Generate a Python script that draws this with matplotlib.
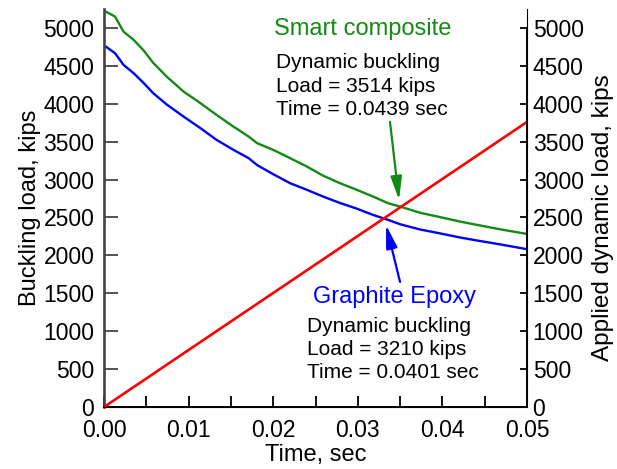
import matplotlib
matplotlib.use("Agg")
import matplotlib.pyplot as plt
from matplotlib.ticker import MultipleLocator

plt.rcParams['font.family'] = ['Liberation Sans', 'DejaVu Sans']

# datos
t_smart = [0.0002, 0.0013, 0.0023, 0.0035, 0.0047, 0.0058, 0.0074, 0.0094,
           0.0114, 0.0133, 0.0153, 0.0171, 0.0181, 0.0200, 0.0220, 0.0240,
           0.0259, 0.0279, 0.0299, 0.0318, 0.0336, 0.0350, 0.0374, 0.0397,
           0.0421, 0.0444, 0.0468, 0.0500]
p_smart = [5215, 5149, 4951, 4842, 4700, 4540, 4358, 4160,
           4007, 3852, 3698, 3566, 3479, 3391, 3281, 3170,
           3050, 2951, 2863, 2775, 2687, 2643, 2560, 2505,
           2445, 2395, 2344, 2282]

t_graph = [0.0002, 0.0013, 0.0023, 0.0035, 0.0047, 0.0058, 0.0074, 0.0094,
           0.0114, 0.0133, 0.0153, 0.0171, 0.0181, 0.0200, 0.0220, 0.0240,
           0.0259, 0.0279, 0.0299, 0.0318, 0.0336, 0.0350, 0.0374, 0.0397,
           0.0421, 0.0444, 0.0468, 0.0500]
p_graph = [4754, 4666, 4512, 4402, 4271, 4140, 3990, 3830,
           3677, 3523, 3391, 3281, 3190, 3070, 2951, 2863,
           2775, 2690, 2615, 2533, 2467, 2410, 2340, 2290,
           2235, 2190, 2145, 2081]

t_load = [0.0, 0.05]
p_load = [0, 3760]

fig = plt.figure(figsize=(6.17, 4.69), dpi=100)
ax = fig.add_axes([0.1686, 0.1322, 0.6856, 0.8488])
ax2 = ax.twinx()

verde = '#138a13'
azul = '#0000ff'

ax.plot(t_smart, p_smart, color=verde, lw=1.7)
ax.plot(t_graph, p_graph, color=azul, lw=1.7)
ax2.plot(t_load, p_load, color='#ff0000', lw=1.9)

ax.set_xlim(0, 0.05)
ax.set_ylim(0, 5250)
ax2.set_ylim(0, 5250)

ax.xaxis.set_major_locator(MultipleLocator(0.01))
ax.xaxis.set_minor_locator(MultipleLocator(0.005))
ax.xaxis.set_major_formatter(plt.FormatStrFormatter('%.2f'))
ax.yaxis.set_major_locator(MultipleLocator(500))
ax2.yaxis.set_major_locator(MultipleLocator(500))

ax.tick_params(axis='x', which='both', direction='in', length=8, width=1.3,
               labelsize=16.5, pad=9)
ax.tick_params(axis='y', direction='in', length=10, width=1.3,
               labelsize=16.5, pad=7, color='#444444')
ax2.tick_params(axis='y', direction='in', length=5, width=1.3,
                labelsize=16.5, pad=4)

for a in (ax, ax2):
    a.spines['top'].set_visible(False)
ax.spines['left'].set_color('#444444')
ax.spines['left'].set_linewidth(1.9)
ax.spines['bottom'].set_linewidth(1.4)
ax2.spines['left'].set_visible(False)
ax2.spines['right'].set_linewidth(1.4)
ax2.spines['right'].set_bounds(0, 5000)

ax.set_xlabel("Time, sec", fontsize=17, labelpad=1)
ax.set_ylabel("Buckling load, kips", fontsize=17, labelpad=2)
# etiqueta derecha centrada sobre el eje 0-5000
fig.text(603 / 617, 1 - 218 / 469, "Applied dynamic load, kips", fontsize=17.5,
         rotation=90, ha='center', va='center')

# anotaciones
ax.text(0.0201, 4908, "Smart composite", color=verde, fontsize=17,
        va='baseline')
for txt, y in zip(["Dynamic buckling", "Load = 3514 kips", "Time = 0.0439 sec"],
                  [4472, 4156, 3852]):
    ax.text(0.0203, y, txt, fontsize=15, va='baseline')

estilo = '-|>,head_length=0.7,head_width=0.17'
ax.annotate("", xy=(0.03487, 2731), xytext=(0.0338, 3760),
            arrowprops=dict(arrowstyle=estilo, color=verde, lw=1.6,
                            mutation_scale=20, shrinkA=0, shrinkB=0))

ax.text(0.0247, 1372, "Graphite Epoxy", color=azul, fontsize=17,
        va='baseline')
for txt, y in zip(["Dynamic buckling", "Load = 3210 kips", "Time = 0.0401 sec"],
                  [989, 686, 383]):
    ax.text(0.0240, y, txt, fontsize=15, va='baseline')

ax.annotate("", xy=(0.03333, 2401), xytext=(0.03499, 1649),
            arrowprops=dict(arrowstyle=estilo, color=azul, lw=1.6,
                            mutation_scale=20, shrinkA=0, shrinkB=0))

fig.savefig("out.png", dpi=100)
